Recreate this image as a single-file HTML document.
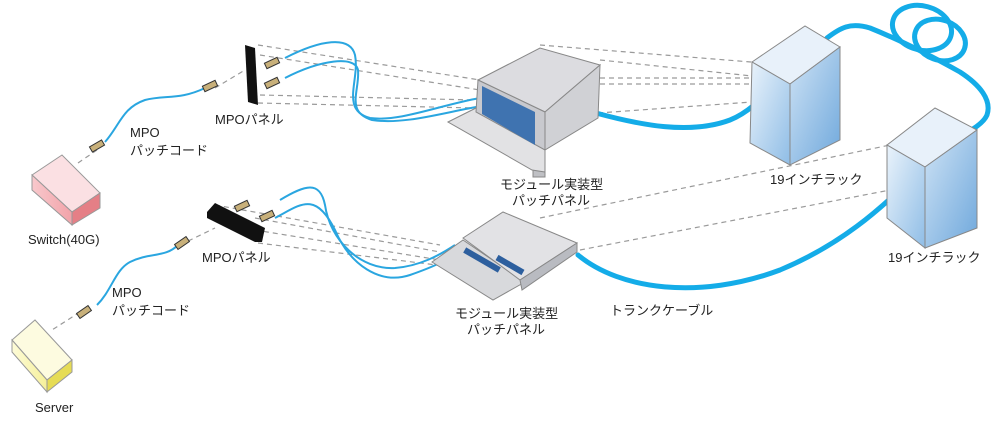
<!DOCTYPE html>
<html><head><meta charset="utf-8"><style>
html,body{margin:0;padding:0;background:#fff;}
svg{display:block;}
text{font-family:"Liberation Sans","Noto Sans CJK JP",sans-serif;font-size:13px;fill:#222;}
</style></head><body>
<svg width="1000" height="423" viewBox="0 0 1000 423" xmlns="http://www.w3.org/2000/svg">
<defs>
<linearGradient id="rk" x1="0" y1="0" x2="1" y2="1"><stop offset="0" stop-color="#eaf3fb"/><stop offset="1" stop-color="#8fbde6"/></linearGradient>
<linearGradient id="rk2" x1="0" y1="0" x2="1" y2="1"><stop offset="0" stop-color="#cfe3f5"/><stop offset="1" stop-color="#6fa8dc"/></linearGradient>
<linearGradient id="pk" x1="0" y1="0" x2="1" y2="0"><stop offset="0" stop-color="#f8c8cc"/><stop offset="1" stop-color="#f2a3a9"/></linearGradient>
<linearGradient id="yl" x1="0" y1="0" x2="1" y2="0"><stop offset="0" stop-color="#fdfbd8"/><stop offset="1" stop-color="#f6f09a"/></linearGradient>
</defs>
<g fill="none" stroke="#9a9a9a" stroke-width="1.2" stroke-dasharray="5,4">
<line x1="97" y1="150" x2="75" y2="165"/>
<line x1="215" y1="88" x2="245" y2="70"/>
<line x1="258" y1="45" x2="480" y2="80"/><line x1="260" y1="55" x2="480" y2="90"/>
<line x1="260" y1="95" x2="475" y2="100"/><line x1="258" y1="103" x2="475" y2="108"/>
<line x1="540" y1="45" x2="751" y2="62"/><line x1="600" y1="60" x2="790" y2="80"/>
<line x1="600" y1="78" x2="780" y2="78"/><line x1="600" y1="84" x2="790" y2="84"/>
<line x1="598" y1="113" x2="752" y2="102"/>
<line x1="752" y1="78" x2="790" y2="98"/>
<line x1="80" y1="312" x2="52" y2="330"/>
<line x1="180" y1="245" x2="215" y2="228"/>
<line x1="215" y1="205" x2="440" y2="245"/><line x1="255" y1="218" x2="440" y2="252"/>
<line x1="255" y1="230" x2="440" y2="260"/><line x1="258" y1="243" x2="445" y2="266"/>
<line x1="540" y1="218" x2="890" y2="145"/><line x1="580" y1="250" x2="890" y2="190"/>
<line x1="890" y1="160" x2="925" y2="168"/><line x1="890" y1="172" x2="925" y2="182"/>
</g>
<!-- Switch -->
<polygon points="32,175 62,155 100,193 72,212" fill="#fbe0e3" stroke="#999"/>
<polygon points="32,175 72,212 72,225 32,190" fill="url(#pk)" stroke="#999"/>
<polygon points="72,212 100,193 100,208 72,225" fill="#e57f86" stroke="#999"/>
<!-- Server -->
<polygon points="12,340 35,320 72,360 47,380" fill="#fdfbe0" stroke="#999"/>
<polygon points="12,340 47,380 47,392 12,352" fill="url(#yl)" stroke="#999"/>
<polygon points="47,380 72,360 72,372 47,392" fill="#e6dc55" stroke="#999"/>
<!-- patch cords -->
<g fill="none" stroke="#2aa6e0" stroke-width="2">
<path d="M105,142 C120,125 122,108 145,100 C165,95 180,100 205,88"/>
<path d="M285,58 C320,40 350,35 355,55 C360,80 340,110 370,118 C400,122 440,105 480,98"/>
<path d="M285,78 C320,60 355,55 358,70 C360,90 345,112 372,120 C405,125 445,112 482,106"/>
<path d="M97,305 C112,290 115,270 130,262 C150,252 165,258 178,245"/>
<path d="M280,200 C305,185 320,180 325,205 C330,240 360,270 395,268 C420,266 440,255 455,245"/>
<path d="M275,218 C300,205 315,190 335,230 C350,265 380,285 410,275 C430,268 445,262 460,250"/>
</g>
<g fill="none" stroke="#14ace8" stroke-width="5" stroke-linecap="round">
<path d="M596,113 C640,125 690,135 730,120 C750,112 765,95 777,83"/>
<path d="M578,255 C620,290 700,300 780,270 C840,245 880,210 915,175"/>
<path d="M827,38 C840,28 850,22 870,28 C905,42 935,58 960,72 C980,85 992,100 987,115 C984,122 975,128 968,132"/>
<ellipse cx="922" cy="28" rx="30" ry="22" transform="rotate(15 922 28)"/>
<ellipse cx="940" cy="40" rx="26" ry="20" transform="rotate(20 940 40)"/>
</g>
<!-- connectors -->
<g fill="#c8b07a" stroke="#333" stroke-width="1">
<rect x="90" y="143" width="14" height="6" transform="rotate(-30 97 146)"/>
<rect x="203" y="83" width="14" height="6" transform="rotate(-25 210 86)"/>
<rect x="265" y="60" width="14" height="6" transform="rotate(-25 272 63)"/>
<rect x="265" y="80" width="14" height="6" transform="rotate(-25 272 83)"/>
<rect x="77" y="309" width="14" height="6" transform="rotate(-35 84 312)"/>
<rect x="175" y="240" width="14" height="6" transform="rotate(-35 182 243)"/>
<rect x="235" y="203" width="14" height="6" transform="rotate(-25 242 206)"/>
<rect x="260" y="213" width="14" height="6" transform="rotate(-25 267 216)"/>
</g>
<!-- MPO panels -->
<polygon points="245,45 255,48 258,105 248,102" fill="#111"/>
<polygon points="207,212 215,203 265,228 262,242 255,242 207,218" fill="#111"/>
<!-- upper patch panel -->
<rect x="533" y="145" width="12" height="32" fill="#bfc0c4" stroke="#888"/>
<polygon points="448,122 476,108 545,148 545,172 532,170" fill="#e2e2e4" stroke="#888"/>
<polygon points="478,80 540,48 600,65 545,112" fill="#dcdce0" stroke="#888"/>
<polygon points="478,80 545,112 545,150 476,112" fill="#c8c9ce" stroke="#888"/>
<polygon points="482,86 535,112 535,145 482,114" fill="#3f73b0"/>
<polygon points="545,112 600,65 598,118 545,150" fill="#d0d1d5" stroke="#888"/>
<!-- lower patch panel -->
<polygon points="432,262 463,240 525,282 493,300" fill="#d8d9dc" stroke="#888"/>
<polygon points="463,238 503,212 577,243 520,280" fill="#e2e2e5" stroke="#888"/>
<polygon points="520,280 577,243 577,252 522,290" fill="#b9bbc1" stroke="#888"/>
<rect x="462" y="257" width="40" height="6" fill="#2d5f9e" transform="rotate(30 482 260)"/>
<rect x="495" y="262" width="30" height="6" fill="#2d5f9e" transform="rotate(30 510 265)"/>
<!-- racks -->
<polygon points="752,62 805,26 840,47 790,84" fill="#e8f1fa" stroke="#888"/>
<polygon points="752,62 790,84 790,165 750,143" fill="url(#rk)" stroke="#888"/>
<polygon points="790,84 840,47 840,140 790,165" fill="url(#rk2)" stroke="#888"/>
<polygon points="887,145 935,108 977,130 925,167" fill="#e8f1fa" stroke="#888"/>
<polygon points="887,145 925,167 925,248 887,218" fill="url(#rk)" stroke="#888"/>
<polygon points="925,167 977,130 977,228 925,248" fill="url(#rk2)" stroke="#888"/>
<!-- labels -->
<text x="130" y="137">MPO</text><text x="130" y="155">パッチコード</text>
<text x="215" y="124">MPOパネル</text>
<text x="28" y="244">Switch(40G)</text>
<text x="500" y="189">モジュール実装型</text><text x="512" y="205">パッチパネル</text>
<text x="770" y="184">19インチラック</text>
<text x="112" y="297">MPO</text><text x="112" y="315">パッチコード</text>
<text x="202" y="262">MPOパネル</text>
<text x="455" y="318">モジュール実装型</text><text x="467" y="334">パッチパネル</text>
<text x="610" y="315">トランクケーブル</text>
<text x="888" y="262">19インチラック</text>
<text x="35" y="412">Server</text>
</svg>
</body></html>
